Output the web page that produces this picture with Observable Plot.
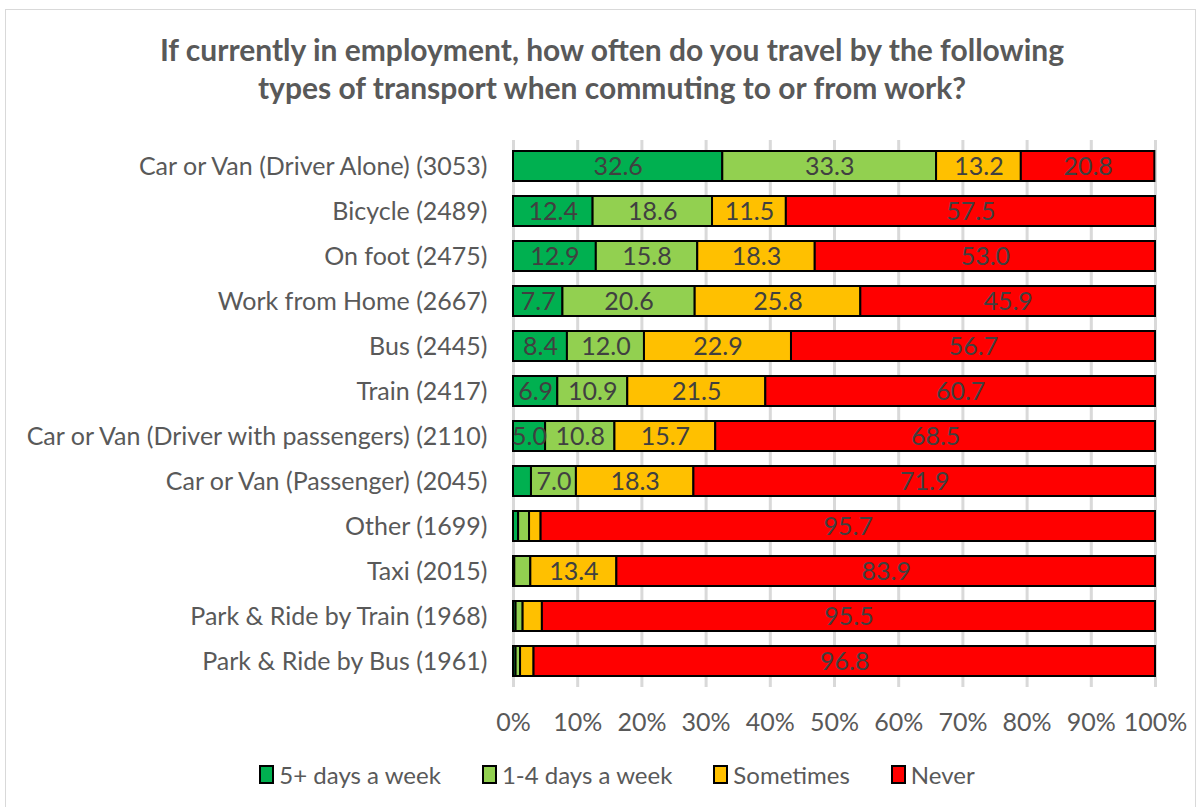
<!DOCTYPE html>
<html><head><meta charset="utf-8">
<script src="https://cdn.jsdelivr.net/npm/d3@7"></script>
<script src="https://cdn.jsdelivr.net/npm/@observablehq/plot@0.6"></script>
<style>
html,body{margin:0;padding:0;background:#fff;}
#frame{position:absolute;left:5px;top:9px;width:1191px;height:800px;border:1px solid #d9d9d9;box-sizing:border-box;}
#title{position:absolute;left:0;top:30px;width:1224px;text-align:center;font-family:Lato,sans-serif;font-weight:bold;font-size:30px;line-height:38px;color:#595959;}
#chart{position:absolute;left:0;top:130px;}
#legend{position:absolute;left:0;top:760px;width:1200px;display:flex;justify-content:center;gap:41px;font-family:Lato,sans-serif;font-size:24px;color:#595959;padding-left:34px;box-sizing:border-box;}
#legend span.item{display:flex;align-items:center;}
#legend span.sw{display:inline-block;width:11px;height:15px;border:2px solid #000;margin-right:5px;}
</style></head>
<body>
<div id="frame"></div>
<div id="title">If currently in employment, how often do you travel by the following<br>types of transport when commuting to or from work?</div>
<div id="chart"></div>
<div id="legend"></div>
<script>
const categories = ["Car or Van (Driver Alone)","Bicycle","On foot","Work from Home","Bus","Train","Car or Van (Driver with passengers)","Car or Van (Passenger)","Other","Taxi","Park & Ride by Train","Park & Ride by Bus"];
const counts = [3053,2489,2475,2667,2445,2417,2110,2045,1699,2015,1968,1961];
const seriesNames = ["5+ days a week","1-4 days a week","Sometimes","Never"];
const colors = ["#00b050","#92d050","#ffc000","#ff0000"];
const fiveplus = [32.6,12.4,12.9,7.7,8.4,6.9,5.0,2.8,0.8,0.2,0.4,0.4];
const oneToFour = [33.3,18.6,15.8,20.6,12.0,10.9,10.8,7.0,1.7,2.5,1.1,0.7];
const sometimes = [13.2,11.5,18.3,25.8,22.9,21.5,15.7,18.3,1.8,13.4,3.0,2.1];
const never = [20.8,57.5,53.0,45.9,56.7,60.7,68.5,71.9,95.7,83.9,95.5,96.8];
const xTicks = [0,10,20,30,40,50,60,70,80,90,100];

const seriesValues = [fiveplus, oneToFour, sometimes, never];
const labels = categories.map((c,i)=>`${c} (${counts[i]})`);
const data = [];
seriesValues.forEach((vals,s)=>vals.forEach((v,i)=>data.push({cat:labels[i], series:seriesNames[s], value:v})));

const chart = Plot.plot({
  width:1200, height:614,
  marginLeft:513, marginRight:45, marginTop:3, marginBottom:50,
  style:{fontFamily:"Lato, sans-serif", fontSize:"25px", color:"#595959", background:"transparent"},
  x:{domain:[0,100], ticks:xTicks, tickFormat:d=>d+"%", label:null, tickSize:0, tickPadding:19},
  y:{domain:labels, label:null, tickSize:0, tickPadding:26, padding:0.33},
  color:{domain:seriesNames, range:colors},
  marks:[
    Plot.ruleX(xTicks, {stroke:"#d9d9d9", strokeWidth:3, insetTop:7, insetBottom:7}),
    Plot.barX(data, Plot.stackX({x:"value", y:"cat", fill:"series", order:seriesNames, stroke:"#000", strokeWidth:2, inset:0})),
    Plot.text(data, Plot.stackX({x:"value", y:"cat", z:"series", order:seriesNames, text:d=>d.value>=4?d.value.toFixed(1):"", fill:"#404040", fontSize:25}))
  ]
});
document.getElementById("chart").appendChild(chart);

const leg = document.getElementById("legend");
seriesNames.forEach((n,i)=>{
  const it=document.createElement("span"); it.className="item";
  const sw=document.createElement("span"); sw.className="sw"; sw.style.background=colors[i];
  it.appendChild(sw); it.appendChild(document.createTextNode(n)); leg.appendChild(it);
});
</script>
</body></html>
